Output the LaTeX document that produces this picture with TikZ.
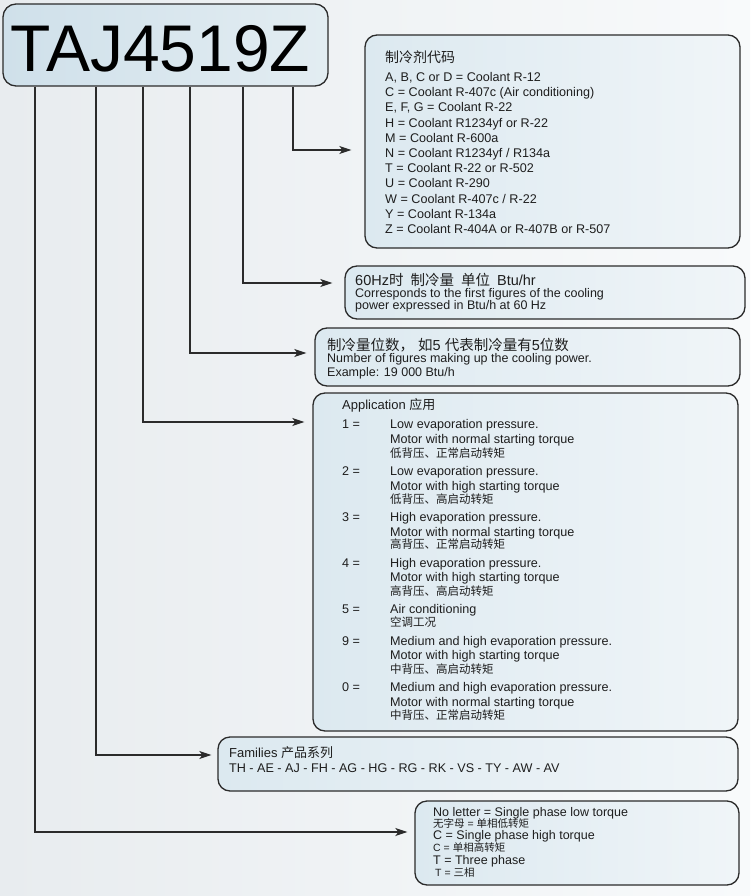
\documentclass[tikz,border=0pt]{standalone}
\usepackage{fontspec}
\setmainfont{Liberation Sans}
\newfontfamily\cjk{Noto Sans CJK SC}
\usetikzlibrary{arrows.meta}
\definecolor{linec}{HTML}{2B2B2B}
\definecolor{textc}{HTML}{1E1E1E}
\definecolor{boxa}{HTML}{DCE9F0}
\definecolor{boxb}{HTML}{F0F5F8}
\definecolor{bga}{HTML}{E8ECEF}
\definecolor{bgb}{HTML}{F8FAFB}
\definecolor{titlea}{HTML}{CFE0EA}
\definecolor{titleb}{HTML}{E3EDF2}
\begin{document}
\begin{tikzpicture}[x=1pt,y=-1pt,
  box/.style={draw=linec, line width=1.3pt, rounded corners=12pt, left color=boxa, right color=boxb, inner sep=0pt},
  conn/.style={draw=linec, line width=1.3pt, -{Stealth[length=12pt,width=8pt,inset=3pt]}},
  txt/.style={anchor=base west, inner sep=0pt, text=textc, font=\fontsize{12.6}{15}\selectfont},
  stxt/.style={txt, font=\fontsize{12.5}{14}\selectfont},
  hd/.style={txt, font=\fontsize{14.5}{16}\selectfont},
  hdc/.style={txt, font=\fontsize{14}{16}\selectfont\cjk},
  mhd/.style={txt, font=\fontsize{13}{15}\selectfont},
  zh/.style={txt, font=\fontsize{11.5}{13}\selectfont\cjk},
  szh/.style={txt, font=\fontsize{10.5}{12}\selectfont}]
\useasboundingbox (0,0) rectangle (750,896);
\shade[left color=bga, right color=bgb] (0,0) rectangle (750,896);

% title
\node[box, left color=titlea, right color=titleb, rounded corners=13pt, minimum width=325pt, minimum height=82pt] (title) at (165.5,45) {};
\node[inner sep=0pt, text=black, font=\fontsize{66}{66}\selectfont] (tt) at (160.5,49) {TAJ4519Z};

% boxes
\node[box, minimum width=375pt, minimum height=213pt] (coolant) at (552.5,141.5) {};
\node[box, minimum width=400pt, minimum height=53pt] (hz) at (545,292.5) {};
\node[box, minimum width=425pt, minimum height=58pt] (fig) at (527.5,357) {};
\node[box, minimum width=425pt, minimum height=338pt] (app) at (525.5,562) {};
\node[box, minimum width=520pt, minimum height=54pt] (fam) at (478,764) {};
\node[box, minimum width=324pt, minimum height=84pt] (bot) at (577,843) {};

% connectors
\draw[conn, shorten >=13pt] (title.south -| 293,0) |- (coolant.west |- 0,150);
\draw[conn, shorten >=12pt] (title.south -| 243,0) |- (hz.west |- 0,283);
\draw[conn, shorten >=8pt] (title.south -| 190,0) |- (fig.west |- 0,353);
\draw[conn, shorten >=8pt] (title.south -| 143,0) |- (app.west |- 0,422);
\draw[conn, shorten >=6pt] (title.south -| 96,0) |- (fam.west |- 0,755);
\draw[conn, shorten >=7pt] (title.south -| 35,0) |- (bot.west |- 0,832);

% coolant text
\node[hdc] (c0) at (385,63) {制冷剂代码};
\node[txt] (c1) at (385,81.5) {A, B, C or D = Coolant R-12};
\node[txt] (c2) at (385,96.7) {C = Coolant R-407c (Air conditioning)};
\node[txt] (c3) at (385,111.9) {E, F, G = Coolant R-22};
\node[txt] (c4) at (385,127.1) {H = Coolant R1234yf or R-22};
\node[txt] (c5) at (385,142.3) {M = Coolant R-600a};
\node[txt] (c6) at (385,157.5) {N = Coolant R1234yf / R134a};
\node[txt] (c7) at (385,172.7) {T = Coolant R-22 or R-502};
\node[txt] (c8) at (385,187.9) {U = Coolant R-290};
\node[txt] (c9) at (385,203.1) {W = Coolant R-407c / R-22};
\node[txt] (c10) at (385,218.3) {Y = Coolant R-134a};
\node[txt] (c11) at (385,233.5) {Z = Coolant R-404A or R-407B or R-507};

% 60Hz text
\node[hd] (h0) at (355,285) {60Hz{\cjk 时}\hspace{3pt} {\cjk 制冷量}\hspace{3pt} {\cjk 单位}\hspace{3pt} Btu/hr};
\node[stxt] (h1) at (355,297.5) {Corresponds to the first figures of the cooling};
\node[stxt] (h2) at (355,309.5) {power expressed in Btu/h at 60 Hz};

% figures text
\node[hd] (f0) at (327,350) {{\cjk 制冷量位数，} {\cjk 如}5 {\cjk 代表制冷量有}5{\cjk 位数}};
\node[stxt] (f1) at (327,362.5) {Number of figures making up the cooling power.};
\node[stxt] (f2) at (327,376.5) {Example: 19 000 Btu/h};

% application text
\node[mhd] (a0) at (342,409.5) {Application {\cjk 应用}};
\node[txt] (a1l) at (342,428.8) {1 =};
\node[txt] (a1a) at (390,428.8) {Low evaporation pressure.};
\node[txt] (a1b) at (390,443.5) {Motor with normal starting torque};
\node[zh] (a1c) at (390,457.5) {低背压、正常启动转矩};
\node[txt] (a2l) at (342,475.5) {2 =};
\node[txt] (a2a) at (390,475.5) {Low evaporation pressure.};
\node[txt] (a2b) at (390,490.2) {Motor with high starting torque};
\node[zh] (a2c) at (390,503.5) {低背压、高启动转矩};
\node[txt] (a3l) at (342,521.2) {3 =};
\node[txt] (a3a) at (390,521.2) {High evaporation pressure.};
\node[txt] (a3b) at (390,536.2) {Motor with normal starting torque};
\node[zh] (a3c) at (390,548.5) {高背压、正常启动转矩};
\node[txt] (a4l) at (342,567.8) {4 =};
\node[txt] (a4a) at (390,567.8) {High evaporation pressure.};
\node[txt] (a4b) at (390,581.8) {Motor with high starting torque};
\node[zh] (a4c) at (390,595.9) {高背压、高启动转矩};
\node[txt] (a5l) at (342,613.8) {5 =};
\node[txt] (a5a) at (390,613.8) {Air conditioning};
\node[zh] (a5c) at (390,626.9) {空调工况};
\node[txt] (a9l) at (342,645.2) {9 =};
\node[txt] (a9a) at (390,645.2) {Medium and high evaporation pressure.};
\node[txt] (a9b) at (390,659.5) {Motor with high starting torque};
\node[zh] (a9c) at (390,673.2) {中背压、高启动转矩};
\node[txt] (a0l) at (342,691.2) {0 =};
\node[txt] (a0a) at (390,691.2) {Medium and high evaporation pressure.};
\node[txt] (a0b) at (390,706.2) {Motor with normal starting torque};
\node[zh] (a0c) at (390,719.9) {中背压、正常启动转矩};

% families text
\node[mhd] (fa0) at (229,757.5) {Families {\cjk 产品系列}};
\node[txt] (fa1) at (229,772.5) {TH - AE - AJ - FH - AG - HG - RG - RK - VS - TY - AW - AV};

% bottom text
\node[stxt] (b1) at (433,816.3) {No letter = Single phase low torque};
\node[szh] (b2) at (433,827.2) {{\cjk 无字母} = {\cjk 单相低转矩}};
\node[stxt] (b3) at (433,839.3) {C = Single phase high torque};
\node[szh] (b4) at (433,851.2) {C = {\cjk 单相高转矩}};
\node[stxt] (b5) at (433,864.3) {T = Three phase};
\node[szh] (b6) at (435,876.2) {T = {\cjk 三相}};
\end{tikzpicture}
\end{document}
